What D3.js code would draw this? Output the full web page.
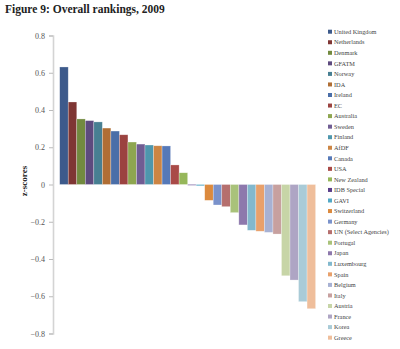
<!DOCTYPE html>
<html><head><meta charset="utf-8">
<script src="https://cdn.jsdelivr.net/npm/d3@7"></script>
<style>body{margin:0;background:#fff}svg{display:block}</style>
</head><body>
<script>
const countries = ["United Kingdom","Netherlands","Denmark","GFATM","Norway","IDA","Ireland","EC","Australia","Sweden","Finland","AfDF","Canada","USA","New Zealand","IDB Special","GAVI","Switzerland","Germany","UN (Select Agencies)","Portugal","Japan","Luxembourg","Spain","Belgium","Italy","Austria","France","Korea","Greece"];
const zScores = [0.631,0.443,0.352,0.343,0.336,0.303,0.287,0.267,0.228,0.217,0.212,0.208,0.207,0.105,0.063,-0.004,-0.007,-0.085,-0.110,-0.119,-0.151,-0.217,-0.246,-0.251,-0.257,-0.266,-0.490,-0.513,-0.629,-0.667];
const colors = ["#3d5a8b","#7f3634","#728a3f","#5d4a7e","#477f92","#b06e34","#4a6ea8","#9b4340","#8ea650","#705d93","#4e97ad","#cc8544","#5679b8","#a94a47","#96b75a","#5a3e8a","#52a8c6","#dc8a3e","#7a92cb","#b56f6e","#a9c27a","#8d78ac","#82b8cd","#e8a06b","#a7b1d3","#c7a09f","#c7d5a7","#aea5c4","#a9cbd7","#efbe9b"];
const yTicks = [0.8,0.6,0.4,0.2,0,-0.2,-0.4,-0.6,-0.8];
const title = "Figure 9: Overall rankings, 2009";
const yTitle = "z-scores";

const W = 400, H = 349;
const svg = d3.select("body").append("svg").attr("width", W).attr("height", H);
const font = "'Liberation Serif', 'DejaVu Serif', serif";

svg.append("text").attr("x", 5).attr("y", 13).attr("font-family", font)
  .attr("font-size", 11.5).attr("font-weight", "bold").attr("fill", "#222").text(title);

const y = d3.scaleLinear().domain([-0.8, 0.8]).range([333.5, 35.5]);
const x = d3.scaleBand().domain(countries).range([59.7, 315.6]).padding(0);

// y axis
const yAxis = svg.append("g").attr("transform", "translate(53,0)")
  .call(d3.axisLeft(y).tickValues(yTicks).tickSize(4).tickPadding(4)
    .tickFormat(d => d === 0 ? "0" : d3.format(".1f")(d)));
yAxis.select(".domain").attr("stroke", "#d4d4d4").attr("stroke-width", 1.6);
yAxis.selectAll(".tick line").attr("stroke", "#bbb");
yAxis.selectAll(".tick text").attr("font-family", font).attr("font-size", 8).attr("fill", "#555");

svg.append("text").attr("transform", "translate(27,181) rotate(-90)")
  .attr("text-anchor", "middle").attr("font-family", font).attr("font-size", 9)
  .attr("font-weight", "bold").attr("fill", "#222").text(yTitle);

// bars
svg.append("g").selectAll("rect").data(countries).join("rect")
  .attr("x", d => x(d))
  .attr("width", x.bandwidth())
  .attr("y", (d, i) => Math.min(y(zScores[i]), y(0)))
  .attr("height", (d, i) => Math.max(0.8, Math.abs(y(zScores[i]) - y(0))))
  .attr("fill", (d, i) => colors[i])
  .attr("stroke", "rgba(255,255,255,0.45)").attr("stroke-width", 0.6);

// legend
const lg = svg.append("g").selectAll("g").data(countries).join("g")
  .attr("transform", (d, i) => `translate(328,${31.7 + i * 10.55})`);
lg.append("rect").attr("x", 0).attr("y", -2).attr("width", 4).attr("height", 4)
  .attr("fill", (d, i) => colors[i]);
lg.append("text").attr("x", 6).attr("y", 2.2).attr("font-family", font)
  .attr("font-size", 6.3).attr("fill", "#444").text(d => d);
</script>
</body></html>
